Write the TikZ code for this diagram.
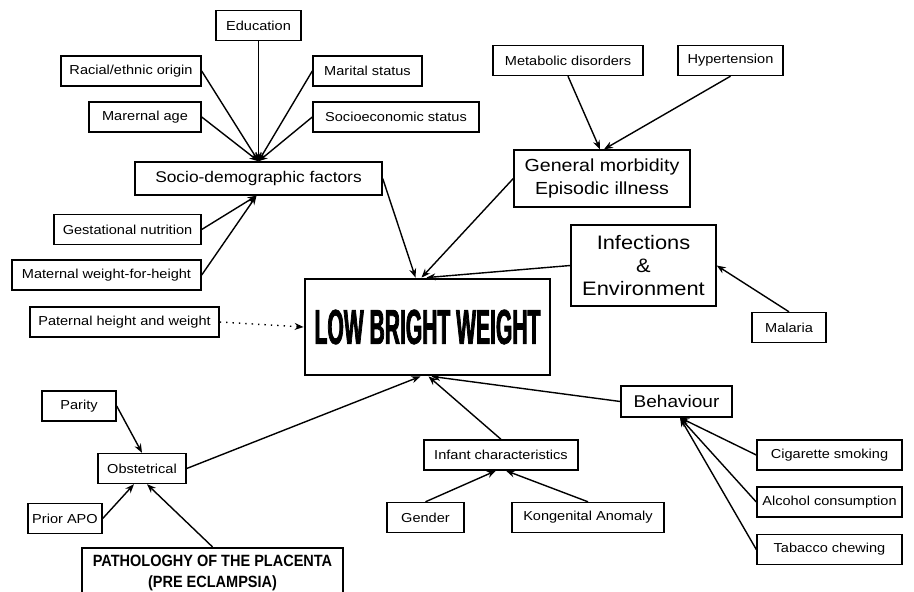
\documentclass[tikz,border=0pt]{standalone}
\usepackage{fontspec}
\setmainfont{Liberation Sans}[FakeStretch=1.12]
\newfontfamily\lbwfont{Liberation Sans}[FakeStretch=0.43,FakeBold=1.5]
\newfontfamily\plafont{Liberation Sans}[FakeStretch=0.89]
\usetikzlibrary{arrows.meta}
\tikzset{
  box/.style={draw, line width=1.4pt, inner sep=2pt, minimum height=30pt,
    font=\fontsize{13}{15}\selectfont},
  bigbox/.style={box, align=center, font=\fontsize{17}{22.7}\selectfont},
  arr/.style={line width=1.4pt, -{Stealth[length=9pt,width=7pt]}}
}

\begin{document}
\begin{tikzpicture}[x=1pt,y=-1pt]
          \fill[white] (0,0) rectangle (914,592);
          \useasboundingbox (0,0) rectangle (914,592);

          \node[box, minimum width=85] (edu) at (258.5,25.5) {Education};
          \node[box, minimum width=140] (race) at (131,71) {Racial/ethnic origin};
          \node[box, minimum width=109] (marit) at (367.5,71) {Marital status};
          \node[box, minimum width=112] (age) at (145,117) {Marernal age};
          \node[box, minimum width=166] (ses) at (396,117) {Socioeconomic status};
          \node[bigbox, minimum width=247, minimum height=33, font=\fontsize{15.5}{18}\selectfont] (socio) at (258.5,178.5) {Socio-demographic factors};
          \node[box, minimum width=147] (gest) at (127.5,229.5) {Gestational nutrition};
          \node[box, minimum width=189] (mwh) at (106.5,275) {Maternal weight-for-height};
          \node[box, minimum width=189] (pat) at (124.5,322) {Paternal height and weight};
          \node[draw, line width=2.8pt, minimum width=245, minimum height=96, font=\lbwfont\bfseries\fontsize{49}{52}\selectfont] (lbw) at (427.5,327) {LOW BRIGHT WEIGHT};

          \node[box, minimum width=150] (metab) at (568,60.5) {Metabolic disorders};
          \node[box, minimum width=105] (hyper) at (730.5,60.5) {Hypertension};
          \node[bigbox, minimum width=176, minimum height=57, font=\fontsize{17.5}{22.7}\selectfont] (morb) at (602,178.5) {General morbidity\\Episodic illness};
          \node[bigbox, minimum width=145, minimum height=81, font=\fontsize{19.5}{23}\selectfont] (infec) at (643.5,265.5) {Infections\\\&\\Environment};
          \node[box, minimum width=74] (malar) at (789,327.5) {Malaria};

          \node[bigbox, minimum width=111, minimum height=31] (behav) at (676.5,401.5) {Behaviour};
          \node[box, minimum width=145] (cigar) at (829.5,455) {Cigarette smoking};
          \node[box, minimum width=145] (alcoh) at (829.5,502) {Alcohol consumption};
          \node[box, minimum width=145] (tabac) at (829.5,549.5) {Tabacco chewing};
          \node[box, minimum width=154] (infant) at (501,455) {Infant characteristics};
          \node[box, minimum width=77] (gender) at (425.5,517.5) {Gender};
          \node[box, minimum width=152] (anom) at (588,517.5) {Kongenital Anomaly};

          \node[box, minimum width=74] (parity) at (79,406) {Parity};
          \node[box, minimum width=88] (obst) at (142,468.5) {Obstetrical};
          \node[box, minimum width=74] (apo) at (65,518.5) {Prior APO};
          \node[draw, line width=2.2pt, minimum width=261, minimum height=50, align=center, font=\plafont\bfseries\fontsize{16.3}{20.6}\selectfont] (placen) at (212.5,573) {PATHOLOGHY OF THE PLACENTA\\(PRE ECLAMPSIA)};

          \draw[arr] (edu) -- (socio.north);
          \draw[arr] (race.east) -- (socio.north);
          \draw[arr] (age.east) -- (socio.north);
          \draw[arr] (marit.west) -- (socio.north);
          \draw[arr] (ses.west) -- (socio.north);
          \draw[arr] (gest.east) -- ([xshift=-2]socio.south);
          \draw[arr] (mwh.east) -- ([xshift=-2]socio.south);

          \draw[arr] (socio.east) -- ([xshift=-12]lbw.north);
          \draw[arr] (morb.west) -- ([xshift=-6]lbw.north);
          \draw[arr] (infec.west) -- ([xshift=-1]lbw.north);
          \draw[arr, dash pattern=on 1.4pt off 5pt] (pat.east) -- (lbw.west);
          \draw[arr] (obst.east) -- ([xshift=-7]lbw.south);
          \draw[arr] (infant.north) -- ([xshift=1]lbw.south);
          \draw[arr] (behav.west) -- ([xshift=4]lbw.south);

          \draw[arr] (metab.south) -- ([xshift=-2]morb.north);
          \draw[arr] (hyper.south) -- ([xshift=2]morb.north);
          \draw[arr] (malar.north) -- (infec.east);

          \draw[arr] (cigar.west) -- ([xshift=3.5]behav.south);
          \draw[arr] (alcoh.west) -- ([xshift=3.5]behav.south);
          \draw[arr] (tabac.west) -- ([xshift=3.5]behav.south);
          \draw[arr] (gender.north) -- ([xshift=-5]infant.south);
          \draw[arr] (anom.north) -- ([xshift=5]infant.south);

          \draw[arr] (parity.east) -- (obst.north);
          \draw[arr] (apo.east) -- ([xshift=-8]obst.south);
          \draw[arr] (placen.north) -- ([xshift=5]obst.south);
\end{tikzpicture}
\end{document}
